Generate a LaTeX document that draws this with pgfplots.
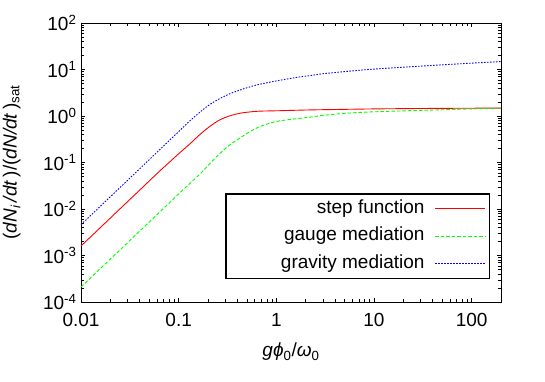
\documentclass[border=0pt]{standalone}
\usepackage{pgfplots}
\pgfplotsset{compat=1.18}
\usepackage{fontspec}
\setmainfont{Liberation Sans}
\begin{document}
\fontsize{19}{22}\selectfont
\begin{tikzpicture}
\begin{axis}[
    name=ax,
    scale only axis, width=420pt, height=279pt,
    xmode=log, ymode=log,
    xmin=0.01, xmax=200, ymin=1e-4, ymax=1e2,
    /pgf/number format/assume math mode=true,
    log ticks with fixed point,
    xticklabel={\pgfmathparse{exp(\tick)}\pgfmathprintnumber[fixed relative, precision=3]{\pgfmathresult}},
    yticklabel={10\textsuperscript{\pgfmathparse{int(round(\tick/ln(10)))}\pgfmathresult}},
    xticklabel style={yshift=-5pt},
    yticklabel style={xshift=2pt},
    axis line style={line width=0.8pt},
    tick style={line width=0.6pt, black},
    xlabel={\textit{g}\textit{ϕ}\textsubscript{0}/\textit{ω}\textsubscript{0}},
    ylabel={(\textit{dN}\textsubscript{\textit{i}}\,\textit{/dt}\,)/(\textit{dN/dt}\,)\textsubscript{sat}},
    xlabel style={at={(axis description cs:0.5,-0.179)}, anchor=center},
    ylabel style={at={(axis description cs:-0.165,0.5)}, anchor=center},
    legend plot pos=right,
    legend cell align=right,
    legend image code/.code={\draw[#1] (0pt,0pt) -- (50pt,0pt);},
    legend style={at={(0.974,0.082)}, anchor=south east, draw=black, line width=1.2pt,
        inner sep=4pt, row sep=6pt, column sep=8pt,
        nodes={inner sep=2pt, text height=13pt, text depth=4.5pt, line width=0.9pt},
        font=\fontsize{19}{22}\selectfont},
]
\addplot[red, line width=0.9pt, smooth] coordinates {
(0.01,0.0016)(0.02,0.0064)(0.04,0.0256)(0.0635,0.0645)(0.102,0.160)(0.13,0.25)
(0.163,0.39)(0.207,0.59)(0.262,0.82)(0.331,1.0)(0.419,1.14)(0.531,1.22)(0.671,1.27)
(1.08,1.30)(2.18,1.35)(5,1.39)(10,1.42)(20,1.44)(50,1.46)(100,1.47)(200,1.48)};
\addlegendentry{step function}
\addplot[green, line width=0.9pt, dash pattern=on 3.5pt off 2pt, smooth] coordinates {
(0.01,0.00021)(0.02,0.00084)(0.04,0.00336)(0.07,0.0103)(0.11,0.0254)(0.163,0.055)
(0.207,0.093)(0.262,0.153)(0.331,0.235)(0.419,0.33)(0.531,0.455)(0.671,0.585)
(0.85,0.695)(1.08,0.785)(1.72,0.89)(2.18,0.94)(3,1.03)(5,1.14)(7,1.19)(10,1.23)
(20,1.29)(50,1.36)(100,1.42)(200,1.48)};
\addlegendentry{gauge mediation}
\addplot[blue, line width=0.9pt, dash pattern=on 1.5pt off 1.5pt, smooth] coordinates {
(0.01,0.0046)(0.02,0.0184)(0.04,0.0736)(0.0635,0.186)(0.0805,0.30)(0.102,0.48)
(0.128,0.76)(0.163,1.18)(0.207,1.75)(0.262,2.35)(0.331,2.98)(0.419,3.58)(0.531,4.2)
(0.671,4.8)(1.08,5.85)(1.72,6.9)(2.18,7.35)(3,8.1)(5,9.0)(7,9.6)(10,10.2)(20,11.2)
(50,12.6)(100,13.7)(200,14.8)};
\addlegendentry{\hspace*{49pt}gravity mediation}
\end{axis}
\pgfresetboundingbox
\path (ax.south west) ++(-81pt,-80pt) coordinate (bl);
\path (ax.north east) ++(44pt,23pt) coordinate (tr);
\path[use as bounding box] (bl) rectangle (tr);
\end{tikzpicture}
\end{document}
